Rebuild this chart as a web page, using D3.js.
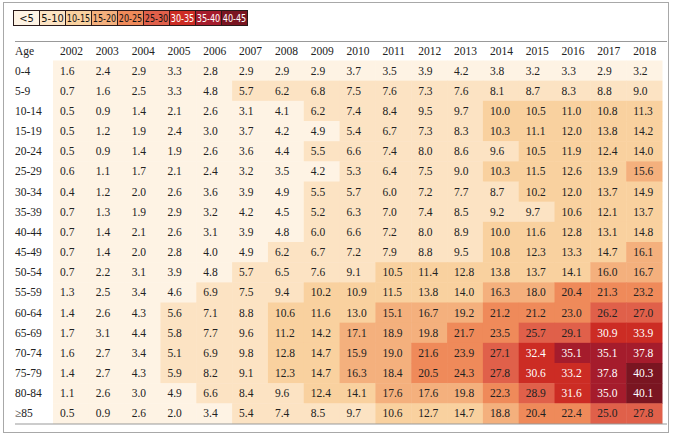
<!DOCTYPE html>
<html><head><meta charset="utf-8">
<script src="https://cdn.jsdelivr.net/npm/d3@7/dist/d3.min.js"></script>
<style>body{margin:0;background:#fff}svg{display:block}</style>
</head><body>
<svg id="chart" width="673" height="436"></svg>
<script>
const years = ["2002","2003","2004","2005","2006","2007","2008","2009","2010","2011","2012","2013","2014","2015","2016","2017","2018"];
const ages = ["0-4","5-9","10-14","15-19","20-24","25-29","30-34","35-39","40-44","45-49","50-54","55-59","60-64","65-69","70-74","75-79","80-84","≥85"];
const v0_4   = [1.6,2.4,2.9,3.3,2.8,2.9,2.9,2.9,3.7,3.5,3.9,4.2,3.8,3.2,3.3,2.9,3.2];
const v5_9   = [0.7,1.6,2.5,3.3,4.8,5.7,6.2,6.8,7.5,7.6,7.3,7.6,8.1,8.7,8.3,8.8,9.0];
const v10_14 = [0.5,0.9,1.4,2.1,2.6,3.1,4.1,6.2,7.4,8.4,9.5,9.7,10.0,10.5,11.0,10.8,11.3];
const v15_19 = [0.5,1.2,1.9,2.4,3.0,3.7,4.2,4.9,5.4,6.7,7.3,8.3,10.3,11.1,12.0,13.8,14.2];
const v20_24 = [0.5,0.9,1.4,1.9,2.6,3.6,4.4,5.5,6.6,7.4,8.0,8.6,9.6,10.5,11.9,12.4,14.0];
const v25_29 = [0.6,1.1,1.7,2.1,2.4,3.2,3.5,4.2,5.3,6.4,7.5,9.0,10.3,11.5,12.6,13.9,15.6];
const v30_34 = [0.4,1.2,2.0,2.6,3.6,3.9,4.9,5.5,5.7,6.0,7.2,7.7,8.7,10.2,12.0,13.7,14.9];
const v35_39 = [0.7,1.3,1.9,2.9,3.2,4.2,4.5,5.2,6.3,7.0,7.4,8.5,9.2,9.7,10.6,12.1,13.7];
const v40_44 = [0.7,1.4,2.1,2.6,3.1,3.9,4.8,6.0,6.6,7.2,8.0,8.9,10.0,11.6,12.8,13.1,14.8];
const v45_49 = [0.7,1.4,2.0,2.8,4.0,4.9,6.2,6.7,7.2,7.9,8.8,9.5,10.8,12.3,13.3,14.7,16.1];
const v50_54 = [0.7,2.2,3.1,3.9,4.8,5.7,6.5,7.6,9.1,10.5,11.4,12.8,13.8,13.7,14.1,16.0,16.7];
const v55_59 = [1.3,2.5,3.4,4.6,6.9,7.5,9.4,10.2,10.9,11.5,13.8,14.0,16.3,18.0,20.4,21.3,23.2];
const v60_64 = [1.4,2.6,4.3,5.6,7.1,8.8,10.6,11.6,13.0,15.1,16.7,19.2,21.2,21.2,23.0,26.2,27.0];
const v65_69 = [1.7,3.1,4.4,5.8,7.7,9.6,11.2,14.2,17.1,18.9,19.8,21.7,23.5,25.7,29.1,30.9,33.9];
const v70_74 = [1.6,2.7,3.4,5.1,6.9,9.8,12.8,14.7,15.9,19.0,21.6,23.9,27.1,32.4,35.1,35.1,37.8];
const v75_79 = [1.4,2.7,4.3,5.9,8.2,9.1,12.3,14.7,16.3,18.4,20.5,24.3,27.8,30.6,33.2,37.8,40.3];
const v80_84 = [1.1,2.6,3.0,4.9,6.6,8.4,9.6,12.4,14.1,17.6,17.6,19.8,22.3,28.9,31.6,35.0,40.1];
const v85    = [0.5,0.9,2.6,2.0,3.4,5.4,7.4,8.5,9.7,10.6,12.7,14.7,18.8,20.4,22.4,25.0,27.8];
const rows = [v0_4,v5_9,v10_14,v15_19,v20_24,v25_29,v30_34,v35_39,v40_44,v45_49,v50_54,v55_59,v60_64,v65_69,v70_74,v75_79,v80_84,v85];

const legendLabels = ["<5","5-10","10-15","15-20","20-25","25-30","30-35","35-40","40-45"];
const thresholds = [5,10,15,20,25,30,35,40];
const palette = ["#fef3e4","#fce3c3","#f9d19f","#f4b07d","#ef8a5a","#e0604a","#cc2c24","#a51c2c","#7a1521"];

const color = d3.scaleThreshold().domain(thresholds).range(palette);
const svg = d3.select("#chart");

// outer frame
svg.append("rect").attr("x",3.5).attr("y",2.5).attr("width",665).attr("height",430)
  .attr("fill","none").attr("stroke","#a8a8a8").attr("stroke-width",1);

// legend
const lx = d3.scaleBand().domain(legendLabels).range([13.5,247.5]);
const lg = svg.append("g");
lg.selectAll("rect").data(legendLabels).join("rect")
  .attr("x",d=>lx(d)).attr("y",10.5).attr("width",lx.bandwidth()).attr("height",15)
  .attr("fill",(d,i)=>palette[i]).attr("stroke","#2a1a1a").attr("stroke-width",1);
lg.selectAll("text").data(legendLabels).join("text")
  .attr("x",d=>lx(d)+lx.bandwidth()/2).attr("y",18.5).attr("dy","0.35em")
  .attr("text-anchor","middle").attr("font-family","'Liberation Sans Narrow', 'DejaVu Sans Condensed', 'Liberation Sans', sans-serif").attr("font-size",11)
  .attr("fill",(d,i)=>i>=6?"#fff":"#111").text(d=>d)
  .each(function(){
    const w = this.getComputedTextLength();
    const max = lx.bandwidth()-2.5;
    if (w > max) d3.select(this).attr("textLength",max).attr("lengthAdjust","spacingAndGlyphs");
  });

// table
const x = d3.scaleBand().domain(years).range([53,662]);
const y = d3.scaleBand().domain(ages).range([60.5,423.5]);
const font = "'Liberation Serif', 'Times New Roman', serif";
const fs = 11.5;

svg.append("line").attr("x1",15).attr("x2",667).attr("y1",41.5).attr("y2",41.5).attr("stroke","#999");

const cells = [];
rows.forEach((r,i)=>r.forEach((v,j)=>cells.push({age:ages[i],year:years[j],v})));

svg.append("g").selectAll("rect").data(cells).join("rect")
  .attr("x",d=>x(d.year)).attr("y",d=>y(d.age)).attr("width",x.bandwidth()+0.5).attr("height",y.bandwidth()+0.5)
  .attr("fill",d=>color(d.v));

svg.append("line").attr("x1",15).attr("x2",667).attr("y1",424).attr("y2",424).attr("stroke","#999");

// header
const hy = 51;
svg.append("text").attr("x",15).attr("y",hy).attr("dy","0.35em").attr("font-family",font).attr("font-size",fs).attr("fill","#222").text("Age");
svg.append("g").selectAll("text").data(years).join("text")
  .attr("x",d=>x(d)+7).attr("y",hy).attr("dy","0.35em").attr("font-family",font).attr("font-size",fs).attr("fill","#222").text(d=>d);

// age labels
svg.append("g").selectAll("text").data(ages).join("text")
  .attr("x",15).attr("y",d=>y(d)+y.bandwidth()/2).attr("dy","0.35em")
  .attr("font-family",font).attr("font-size",fs).attr("fill","#222").text(d=>d);

// values
svg.append("g").selectAll("text").data(cells).join("text")
  .attr("x",d=>x(d.year)+7).attr("y",d=>y(d.age)+y.bandwidth()/2).attr("dy","0.35em")
  .attr("font-family",font).attr("font-size",fs)
  .attr("fill",d=>d.v>=30?"#fff":"#222").text(d=>d.v.toFixed(1));
</script>
</body></html>
